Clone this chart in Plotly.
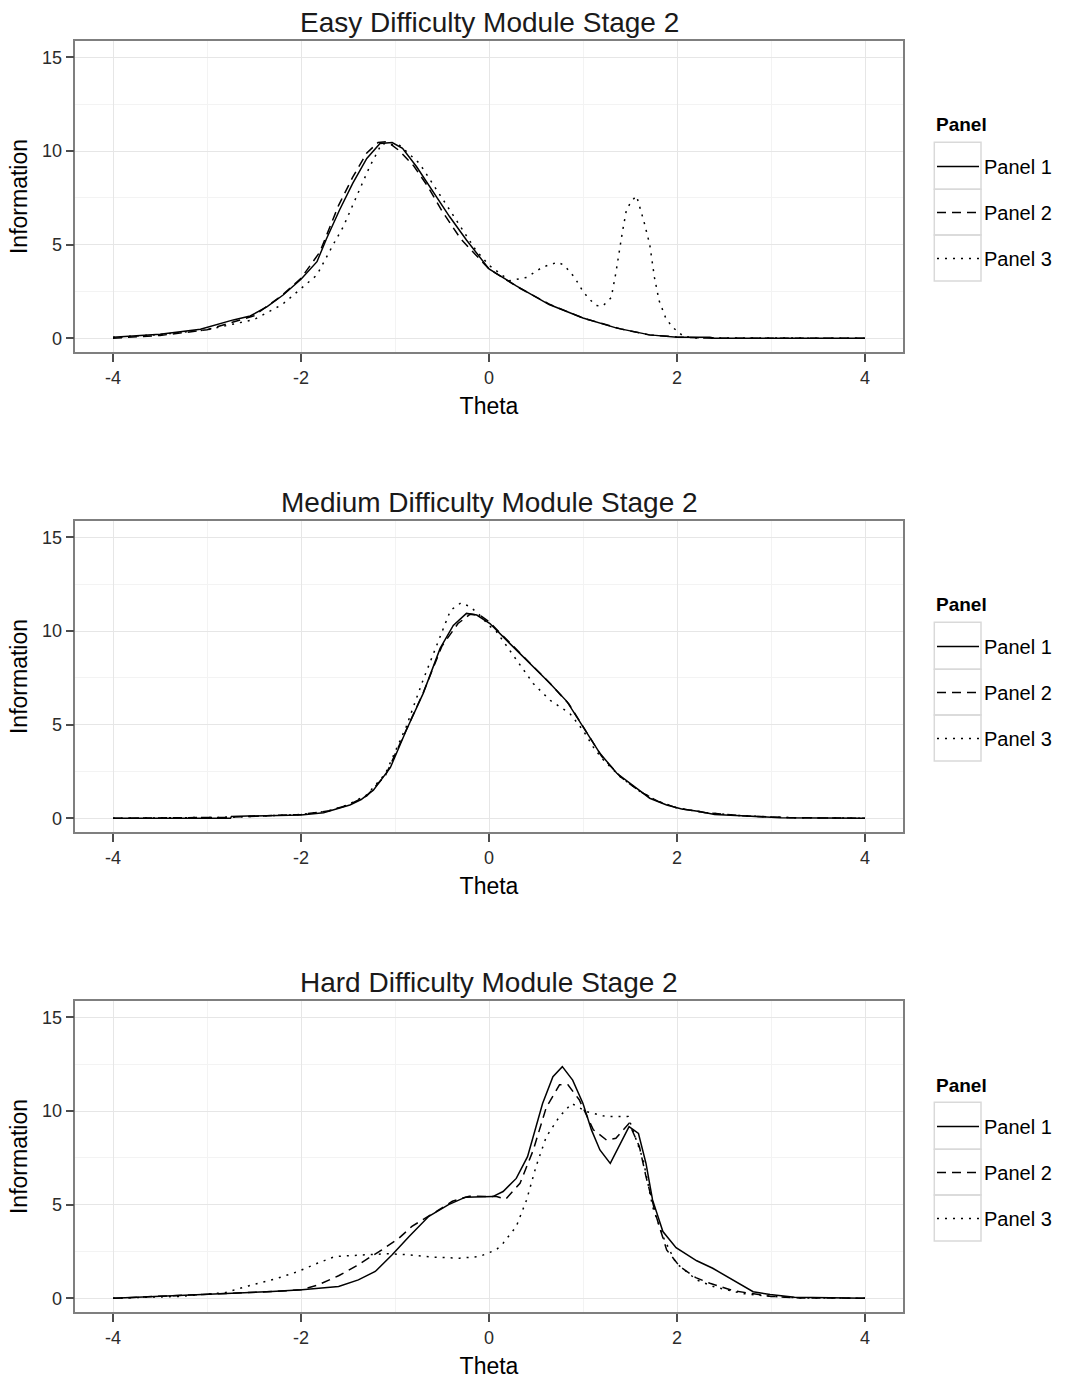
import plotly.graph_objects as go

# ---------------- data ----------------
panel_names = ["Panel 1", "Panel 2", "Panel 3"]
legend_title = "Panel"
titles = ["Easy Difficulty Module Stage 2", "Medium Difficulty Module Stage 2", "Hard Difficulty Module Stage 2"]

easy_p1_theta = [-4.0, -3.5, -3.07, -2.72, -2.54, -2.36, -2.19, -2.0, -1.83, -1.73, -1.59, -1.45, -1.30, -1.16, -1.03, -0.92, -0.77, -0.60, -0.42, -0.24, 0.0, 0.29, 0.64, 1.0, 1.36, 1.71, 2.0, 2.35, 2.4, 3.0, 4.0]
easy_p1_info = [0.05, 0.22, 0.48, 0.98, 1.19, 1.69, 2.31, 3.15, 4.09, 5.3, 6.85, 8.27, 9.6, 10.4, 10.45, 10.14, 9.16, 7.9, 6.5, 5.25, 3.7, 2.8, 1.8, 1.08, 0.54, 0.18, 0.06, 0.05, 0.0, 0.0, 0.0]

easy_p2_theta = [-4.0, -3.5, -3.0, -2.5, -2.2, -2.0, -1.8, -1.6, -1.45, -1.3, -1.18, -1.08, -0.95, -0.8, -0.65, -0.5, -0.3, -0.1, 0.0, 0.3, 0.65, 1.0, 1.4, 1.7, 2.0, 2.4, 3.0, 4.0]
easy_p2_info = [0.0, 0.15, 0.45, 1.2, 2.3, 3.2, 4.6, 7.1, 8.6, 9.9, 10.45, 10.5, 10.0, 9.2, 8.1, 6.8, 5.3, 4.2, 3.7, 2.75, 1.8, 1.08, 0.5, 0.18, 0.07, 0.0, 0.0, 0.0]

easy_p3_theta = [-4.0, -3.5, -3.0, -2.5, -2.2, -2.0, -1.83, -1.66, -1.55, -1.41, -1.27, -1.14, -0.95, -0.74, -0.53, -0.35, -0.14, 0.0, 0.22, 0.4, 0.57, 0.73, 0.8, 0.91, 1.0, 1.07, 1.14, 1.21, 1.30, 1.35, 1.39, 1.42, 1.46, 1.51, 1.57, 1.65, 1.71, 1.76, 1.81, 1.88, 1.95, 2.02, 2.07, 2.2, 3.0, 4.0]
easy_p3_info = [0.05, 0.2, 0.45, 1.0, 1.8, 2.67, 3.38, 4.98, 5.96, 7.56, 9.16, 10.4, 10.3, 9.34, 7.74, 6.3, 4.7, 3.9, 3.07, 3.25, 3.8, 4.06, 3.9, 3.25, 2.5, 2.08, 1.75, 1.72, 2.17, 3.5, 4.8, 5.7, 6.8, 7.3, 7.6, 6.2, 5.0, 3.25, 2.0, 1.08, 0.6, 0.32, 0.1, 0.02, 0.0, 0.0]

med_p1_theta = [-4.0, -2.75, -2.74, -2.0, -1.76, -1.64, -1.48, -1.36, -1.23, -1.05, -0.94, -0.88, -0.70, -0.52, -0.38, -0.24, -0.13, 0.01, 0.22, 0.44, 0.65, 0.83, 1.0, 1.18, 1.36, 1.54, 1.71, 1.89, 2.05, 2.24, 2.4, 2.74, 3.1, 4.0]
med_p1_info = [0.0, 0.0, 0.1, 0.18, 0.3, 0.48, 0.71, 1.0, 1.5, 2.7, 4.0, 4.7, 6.67, 9.07, 10.3, 10.94, 10.85, 10.4, 9.34, 8.27, 7.2, 6.23, 4.9, 3.47, 2.4, 1.69, 1.07, 0.71, 0.5, 0.36, 0.2, 0.12, 0.03, 0.0]

med_p2_theta = [-4.0, -2.8, -2.0, -1.7, -1.5, -1.3, -1.1, -0.9, -0.7, -0.5, -0.33, -0.2, -0.1, 0.0, 0.2, 0.45, 0.65, 0.85, 1.0, 1.2, 1.4, 1.6, 1.8, 2.0, 2.3, 2.7, 3.2, 4.0]
med_p2_info = [0.0, 0.05, 0.2, 0.4, 0.7, 1.2, 2.3, 4.5, 6.7, 9.2, 10.4, 10.9, 10.85, 10.5, 9.5, 8.2, 7.2, 6.1, 4.9, 3.3, 2.2, 1.45, 0.9, 0.55, 0.3, 0.13, 0.03, 0.0]

med_p3_theta = [-4.0, -2.8, -2.0, -1.7, -1.5, -1.3, -1.1, -0.88, -0.7, -0.56, -0.41, -0.30, -0.20, -0.10, 0.0, 0.08, 0.29, 0.47, 0.65, 0.86, 1.0, 1.11, 1.2, 1.4, 1.6, 1.8, 2.0, 2.3, 2.7, 3.2, 4.0]
med_p3_info = [0.0, 0.05, 0.2, 0.4, 0.72, 1.25, 2.4, 4.9, 7.4, 9.2, 11.1, 11.5, 11.3, 10.85, 10.3, 9.96, 8.45, 7.2, 6.3, 5.6, 4.7, 3.8, 3.2, 2.2, 1.45, 0.9, 0.55, 0.3, 0.13, 0.03, 0.0]

hard_p1_theta = [-4.0, -3.31, -2.81, -2.31, -1.99, -1.60, -1.39, -1.21, -1.03, -0.85, -0.64, -0.43, -0.25, 0.04, 0.15, 0.29, 0.41, 0.50, 0.57, 0.68, 0.78, 0.89, 1.0, 1.09, 1.18, 1.29, 1.39, 1.49, 1.59, 1.67, 1.74, 1.85, 1.99, 2.21, 2.38, 2.62, 2.81, 2.99, 3.25, 4.0]
hard_p1_info = [0.0, 0.14, 0.27, 0.36, 0.45, 0.63, 0.98, 1.43, 2.32, 3.3, 4.38, 5.0, 5.4, 5.43, 5.7, 6.4, 7.56, 9.16, 10.4, 11.83, 12.37, 11.65, 10.4, 8.99, 7.92, 7.2, 8.19, 9.16, 8.8, 7.2, 5.25, 3.56, 2.7, 2.0, 1.6, 0.88, 0.35, 0.2, 0.05, 0.0]

hard_p2_theta = [-4.0, -3.3, -2.8, -2.3, -2.0, -1.82, -1.60, -1.42, -1.14, -0.96, -0.82, -0.67, -0.53, -0.39, -0.21, 0.08, 0.18, 0.33, 0.47, 0.61, 0.75, 0.84, 0.96, 1.11, 1.25, 1.35, 1.49, 1.60, 1.67, 1.78, 1.89, 2.03, 2.2, 2.35, 2.6, 3.0, 3.3, 4.0]
hard_p2_info = [0.0, 0.14, 0.27, 0.36, 0.45, 0.71, 1.2, 1.7, 2.59, 3.2, 3.84, 4.29, 4.73, 5.18, 5.45, 5.43, 5.3, 6.14, 7.9, 10.2, 11.4, 11.4, 10.6, 9.0, 8.45, 8.54, 9.34, 8.1, 6.5, 4.36, 2.58, 1.69, 1.1, 0.8, 0.4, 0.1, 0.02, 0.0]

hard_p3_theta = [-4.0, -3.3, -2.81, -2.56, -2.28, -2.03, -1.82, -1.64, -1.32, -1.07, -0.85, -0.6, -0.31, -0.10, 0.08, 0.15, 0.29, 0.40, 0.50, 0.61, 0.75, 0.88, 1.04, 1.25, 1.48, 1.64, 1.74, 1.85, 1.99, 2.21, 2.4, 2.7, 3.0, 3.3, 4.0]
hard_p3_info = [0.0, 0.1, 0.3, 0.66, 1.02, 1.43, 1.88, 2.23, 2.32, 2.38, 2.32, 2.2, 2.14, 2.23, 2.6, 2.94, 3.83, 5.25, 7.03, 8.63, 9.7, 10.4, 9.96, 9.7, 9.7, 7.4, 4.9, 3.3, 1.87, 0.98, 0.6, 0.25, 0.1, 0.02, 0.0]

x_ticks = [-4, -2, 0, 2, 4]
y_ticks = [0, 5, 10, 15]

modules = [
    [(easy_p1_theta, easy_p1_info), (easy_p2_theta, easy_p2_info), (easy_p3_theta, easy_p3_info)],
    [(med_p1_theta, med_p1_info), (med_p2_theta, med_p2_info), (med_p3_theta, med_p3_info)],
    [(hard_p1_theta, hard_p1_info), (hard_p2_theta, hard_p2_info), (hard_p3_theta, hard_p3_info)],
]

# ---------------- layout helpers ----------------
W, H = 1065, 1380
FONT = "Liberation Sans, Arial, sans-serif"
def fx(p): return p / W
def fy(p): return 1 - p / H

dashes = ["solid", "9px,6px", "2px,6px"]
PLOT_L, PLOT_R = 75.4, 902.6
TOPS = [40.7, 520.7, 1000.7]
PH = 311.6

fig = go.Figure()
legend_names = ["legend", "legend2", "legend3"]
for m, series in enumerate(modules):
    ax = "" if m == 0 else str(m + 1)
    for k, (tx, iy) in enumerate(series):
        fig.add_trace(go.Scatter(
            x=tx, y=iy, mode="lines", name=panel_names[k],
            line=dict(color="black", width=1.5, dash=dashes[k]),
            xaxis="x" + ax, yaxis="y" + ax,
            legend=legend_names[m], legendgroup=f"m{m}k{k}",
        ))

layout = dict(
    width=W, height=H, margin=dict(l=0, r=0, t=0, b=0),
    paper_bgcolor="white", plot_bgcolor="white",
    font=dict(family=FONT, color="black"),
    shapes=[], annotations=[],
)

for m in range(3):
    ax = "" if m == 0 else str(m + 1)
    top = TOPS[m]
    bot = top + PH
    xa = dict(
        domain=[fx(PLOT_L), fx(PLOT_R)], range=[-4.4, 4.4], anchor="y" + ax,
        tickvals=x_ticks, ticktext=[str(v) for v in x_ticks],
        showgrid=True, gridcolor="#E6E6E6", gridwidth=1.3,
        minor=dict(dtick=1, tick0=0, showgrid=True, gridcolor="#F3F3F3", gridwidth=1.2, ticks=""),
        zeroline=False, showline=True, mirror=True, linecolor="#7F7F7F", linewidth=1.5,
        ticks="outside", ticklen=8, tickwidth=1.5, tickcolor="#4D4D4D",
        tickfont=dict(size=18, color="#2B2B2B", family=FONT),
        title=dict(text="Theta", font=dict(size=23, color="black", family=FONT), standoff=11),
    )
    ya = dict(
        domain=[fy(bot), fy(top)], range=[-0.75, 15.89], anchor="x" + ax,
        tickvals=y_ticks, ticktext=[str(v) for v in y_ticks],
        showgrid=True, gridcolor="#E6E6E6", gridwidth=1.3,
        minor=dict(dtick=2.5, tick0=0, showgrid=True, gridcolor="#F3F3F3", gridwidth=1.2, ticks=""),
        zeroline=False, showline=True, mirror=True, linecolor="#7F7F7F", linewidth=1.5,
        ticks="outside", ticklen=8, tickwidth=1.5, tickcolor="#4D4D4D",
        tickfont=dict(size=18, color="#2B2B2B", family=FONT),
        title=dict(text="Information", font=dict(size=23, color="black", family=FONT), standoff=8),
    )
    layout["xaxis" + ax] = xa
    layout["yaxis" + ax] = ya

    # subplot title
    layout["annotations"].append(dict(
        text=titles[m], xref="paper", yref="paper",
        x=fx((PLOT_L + PLOT_R) / 2), y=fy(top - 18.5), xanchor="center", yanchor="middle",
        showarrow=False, font=dict(size=28, color="#1A1A1A", family=FONT),
    ))

    off = 480 * m
    # legend title
    layout["annotations"].append(dict(
        text="<b>" + legend_title + "</b>", xref="paper", yref="paper",
        x=fx(934), y=fy(125 + off), xanchor="left", yanchor="middle",
        showarrow=False, font=dict(size=19, color="black", family=FONT),
    ))
    # legend
    layout[legend_names[m]] = dict(
        x=fx(932), y=fy(147 + off), xanchor="left", yanchor="top",
        font=dict(size=20, family=FONT, color="black"),
        bgcolor="rgba(0,0,0,0)", borderwidth=0,
        traceorder="grouped", tracegroupgap=17, itemwidth=42,
    )
    # legend key boxes
    edges = [142.3, 189.3, 235.0, 281.0]
    for j in range(3):
        layout["shapes"].append(dict(
            type="rect", xref="paper", yref="paper",
            x0=fx(934.3), x1=fx(981), y0=fy(edges[j + 1] + off), y1=fy(edges[j] + off),
            line=dict(color="#D9D9D9", width=1.5), fillcolor="rgba(0,0,0,0)", layer="below",
        ))

fig.update_layout(**layout)
fig.write_html("out.html")
